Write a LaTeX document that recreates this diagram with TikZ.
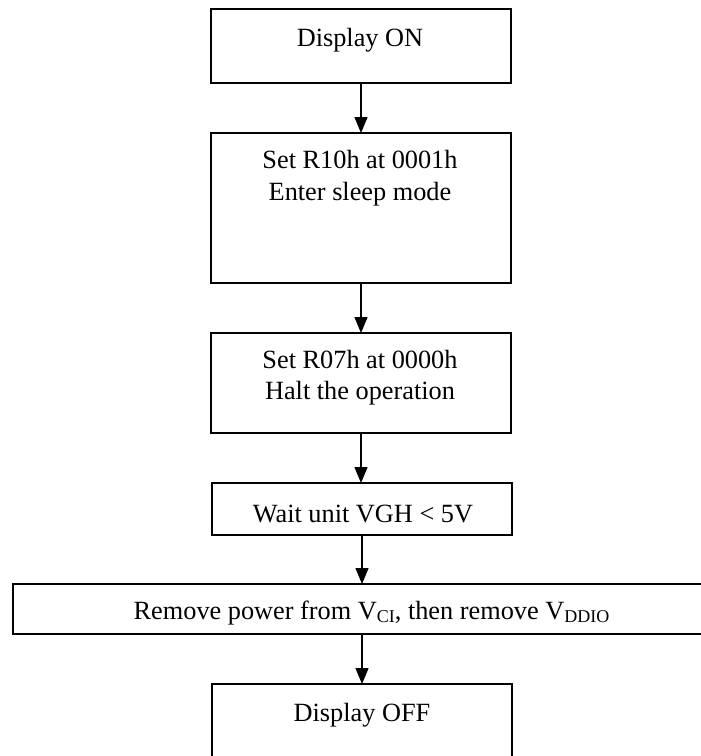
\documentclass[tikz,border=0pt]{standalone}
\usepackage{fontspec}
\setmainfont{Liberation Serif}
\usetikzlibrary{arrows.meta}
\newcommand\lowsub[1]{\raisebox{-3pt}{\fontsize{18}{18}\selectfont #1}}
\begin{document}
\begin{tikzpicture}[x=1pt,y=-1pt,
  box/.style={draw, line width=1.5pt, inner sep=0pt, outer sep=0pt, anchor=north west},
  txt/.style={anchor=base, inner sep=0pt, font=\fontsize{26.3}{31}\selectfont},
  arr/.style={line width=1.4pt, -{Triangle[width=13pt,length=16pt]}}]
\clip (0,0) rectangle (701,756);
\fill[white] (0,0) rectangle (701,756);
\node[box, minimum width=300pt, minimum height=74pt] (b1) at (211,9) {};
\node[box, minimum width=300pt, minimum height=150pt] (b2) at (211,133) {};
\node[box, minimum width=300pt, minimum height=100pt] (b3) at (211,333) {};
\node[box, minimum width=300pt, minimum height=52pt] (b4) at (212,483) {};
\node[box, minimum width=717pt, minimum height=50pt] (b5) at (13,584) {};
\node[box, minimum width=300pt, minimum height=74pt] (b6) at (212,684) {};
\node[txt] (t1) at (360,46) {Display ON};
\node[txt] (t2a) at (360,168) {Set R10h at 0001h};
\node[txt] (t2b) at (360,200) {Enter sleep mode};
\node[txt] (t3a) at (360,368) {Set R07h at 0000h};
\node[txt] (t3b) at (360,399) {Halt the operation};
\node[txt] (t4) at (363,522) {Wait unit VGH < 5V};
\node[txt] (t5) at (371.5,619) {Remove power from V\lowsub{CI}, then remove V\lowsub{DDIO}};
\node[txt] (t6) at (362,721) {Display OFF};
\draw[arr] (b1.south) -- (b2.north);
\draw[arr] (b2.south) -- (b3.north);
\draw[arr] (b3.south) -- (b3.south |- b4.north);
\draw[arr] (b4.south) -- (b4.south |- b5.north);
\draw[arr] (b6.north |- b5.south) -- (b6.north);
\end{tikzpicture}
\end{document}
